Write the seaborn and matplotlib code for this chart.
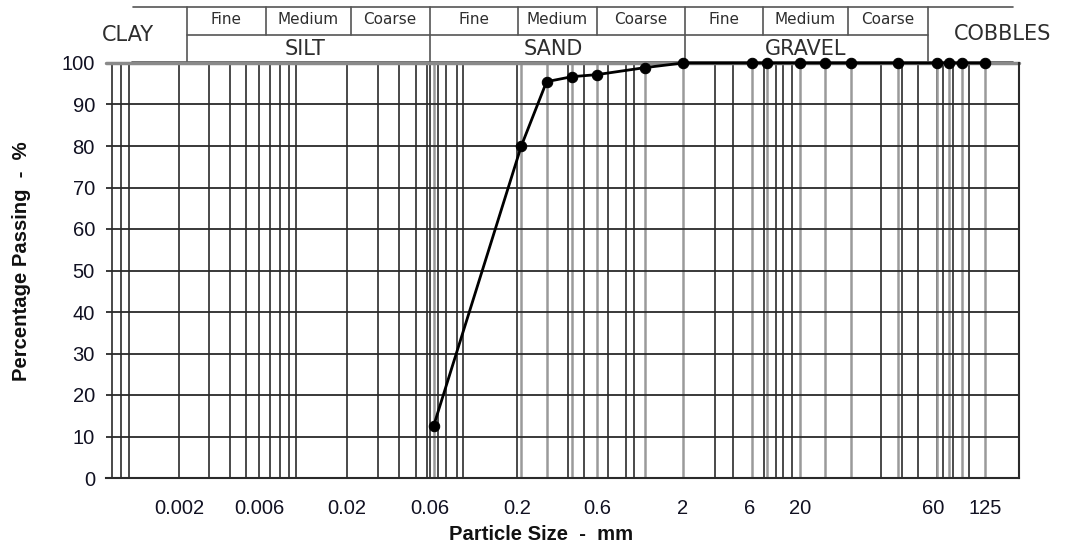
import numpy as np
import matplotlib
matplotlib.use("Agg")
import matplotlib.pyplot as plt
from matplotlib.lines import Line2D
import seaborn as sns

# Sieve analysis results
sieve_mm = [0.063, 0.212, 0.3, 0.425, 0.6, 1.18, 2, 6.3, 10, 20, 28, 37.5, 50, 63, 75, 90, 125]
passing_pct = [12.5, 80, 95.5, 96.7, 97.2, 98.9, 100, 100, 100, 100, 100, 100, 100, 100, 100, 100, 100]

# Axis tick labels
x_ticks = [0.002, 0.006, 0.02, 0.06, 0.2, 0.6, 2, 6, 20, 60, 125]
x_tick_labels = ["0.002", "0.006", "0.02", "0.06", "0.2", "0.6", "2", "6", "20", "60", "125"]
y_ticks = [0, 10, 20, 30, 40, 50, 60, 70, 80, 90, 100]

# Printed grading-chart rulings (mm)
template_mm = [0.0008, 0.0009, 0.001, 0.002, 0.003, 0.004, 0.005, 0.006, 0.007, 0.008,
               0.009, 0.01, 0.02, 0.03, 0.04, 0.05, 0.058, 0.06, 0.067, 0.075, 0.087,
               0.095, 0.2, 0.4, 0.5, 0.7, 0.9, 1.0, 3.35, 4.5, 9, 12, 14, 17, 45, 51,
               55.5, 63.5, 69, 80, 100]

# Piecewise-logarithmic scale of the printed chart form
knot_mm = np.array([0.0007, 0.002, 0.006, 0.02, 0.06, 0.2, 0.6, 2, 6, 10, 20, 28,
                    37.5, 50, 60, 125, 210])
knot_u = np.array([102.5, 179, 259, 347, 430, 517, 597, 683, 750, 767, 800, 825,
                   851, 898, 933, 985, 1021.7])
knot_log = np.log10(knot_mm)


def fwd(x):
    x = np.clip(np.asarray(x, dtype=float), 1e-6, None)
    return np.interp(np.log10(x), knot_log, knot_u)


def inv(u):
    return 10 ** np.interp(np.asarray(u, dtype=float), knot_u, knot_log)


sns.set_theme(style="white")
plt.rcParams["font.family"] = ["Liberation Sans", "DejaVu Sans"]

W, H = 1076, 547
fig = plt.figure(figsize=(W / 100, H / 100), dpi=100)

# Header band with soil classification
hax = fig.add_axes([0, 0, 1, 1])
hax.set_xlim(0, W)
hax.set_ylim(H, 0)
hax.axis("off")
hax.patch.set_alpha(0)

hc = "#555555"
hlw = 1.2
segments = [((133, 1013), (7, 7)), ((187, 928), (35, 35)), ((132, 1013), (62, 62))]
for xs, ys in segments:
    hax.add_line(Line2D(xs, ys, color=hc, lw=hlw))
for xv, y1 in [(187, 62), (266, 35), (351, 35), (430, 62), (518, 35), (597, 35),
               (685, 62), (763, 35), (848, 35), (928, 62)]:
    hax.add_line(Line2D((xv, xv), (7, y1), color=hc, lw=hlw))

tc = "#2e2e2e"
big = dict(fontsize=15, color=tc, ha="center", va="center", family="DejaVu Sans")
small = dict(fontsize=11, color=tc, ha="center", va="center", family="DejaVu Sans")
hax.text(128, 35, "CLAY", **big)
hax.text(1003, 34, "COBBLES", **big)
for xc, name in [(305, "SILT"), (553, "SAND"), (806, "GRAVEL")]:
    hax.text(xc, 49, name, **big)
for centers in [(226, 308, 390), (474, 557, 641), (724, 805, 888)]:
    for xc, name in zip(centers, ["Fine", "Medium", "Coarse"]):
        hax.text(xc, 20, name, **small)

# Main grading chart
ax = fig.add_axes([106 / W, 1 - 478 / H, 913 / W, 415 / H])
ax.set_xscale("function", functions=(fwd, inv))
ax.set_xlim(0.000734, 202)
ax.set_ylim(0, 100)

for v in template_mm:
    ax.axvline(v, color="#3c3c3c", lw=1.3, zorder=1)
for v in sieve_mm:
    ax.axvline(v, color="#9a9a9a", lw=1.8, zorder=1)
for yv in y_ticks[1:-1]:
    ax.axhline(yv, color="#2a2a2a", lw=1.3, zorder=1)
ax.axhline(100, color="#8a8a8a", lw=2.5, zorder=2, clip_on=False)

sns.lineplot(x=sieve_mm, y=passing_pct, ax=ax, color="black", lw=2,
             marker="o", markersize=7.5, markeredgecolor="black",
             zorder=5, clip_on=False, sort=False)

for side in ["top", "left"]:
    ax.spines[side].set_visible(False)
ax.spines["bottom"].set_color("#2a2a2a")
ax.spines["bottom"].set_linewidth(1.5)
ax.spines["right"].set_color("#2a2a2a")
ax.spines["right"].set_linewidth(1.5)

ax.set_xticks(x_ticks)
ax.set_xticklabels(x_tick_labels)
ax.xaxis.set_minor_locator(matplotlib.ticker.NullLocator())
ax.set_yticks(y_ticks)
ax.set_yticklabels([str(v) for v in y_ticks])
ax.tick_params(axis="x", length=0, pad=15, labelsize=14.5, labelcolor="#111122")
ax.tick_params(axis="y", length=0, pad=8, labelsize=14.5, labelcolor="#111122")
ax.grid(False)

fig.text(541 / W, 1 - 535 / H, "Particle Size  -  mm", fontsize=14.6,
         fontweight="bold", ha="center", va="center", color="#111111")
fig.text(22 / W, 1 - 261 / H, "Percentage Passing  -  %", fontsize=14.6,
         fontweight="bold", ha="center", va="center", rotation=90, color="#111111")

fig.savefig("out.png", dpi=100, facecolor="white")
